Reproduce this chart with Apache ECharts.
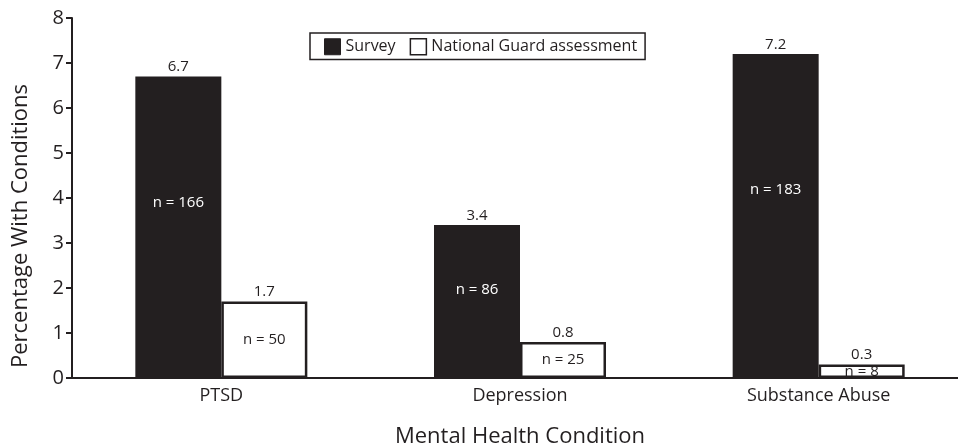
<!DOCTYPE html>
<html>
<head>
<meta charset="utf-8">
<script src="https://cdn.jsdelivr.net/npm/echarts@6/dist/echarts.min.js"></script>
<style>html,body{margin:0;padding:0;background:#fff;}#c{width:958px;height:448px;}</style>
</head>
<body>
<div id="c"></div>
<script>
const categories = ['PTSD', 'Depression', 'Substance Abuse'];
const surveyPct = [6.7, 3.4, 7.2];
const guardPct = [1.7, 0.8, 0.3];
const surveyN = [166, 86, 183];
const guardN = [50, 25, 8];
const yTicks = [0, 1, 2, 3, 4, 5, 6, 7, 8];

const ink = '#231f20';
const font = 'Open Sans';
const chart = echarts.init(document.getElementById('c'));
chart.setOption({
  animation: false,
  textStyle: { fontFamily: font, color: ink },
  grid: { left: 72, right: -10, top: 18, bottom: 70, containLabel: false, outerBoundsMode: 'none' },
  legend: {
    left: 310, top: 33,
    padding: [5, 8, 4, 14],
    borderColor: ink, borderWidth: 1.5, borderRadius: 0,
    itemWidth: 16, itemHeight: 16, itemGap: 14,
    icon: 'rect',
    textStyle: { fontSize: 16, color: ink, fontFamily: font },
    data: [
      { name: 'Survey', itemStyle: { color: ink, borderColor: ink, borderWidth: 1 } },
      { name: 'National Guard assessment', itemStyle: { color: '#fff', borderColor: ink, borderWidth: 1.5 } }
    ]
  },
  xAxis: [{
    type: 'category', data: categories,
    name: 'Mental Health Condition', nameLocation: 'middle', nameGap: 48,
    nameTextStyle: { fontSize: 22, color: ink },
    axisLine: { lineStyle: { color: ink, width: 2 } },
    axisTick: { show: false },
    axisLabel: { fontSize: 18, color: ink, margin: 9 }
  }, {
    type: 'category', data: categories, show: false
  }],
  yAxis: {
    type: 'value', min: 0, max: 8, interval: 1,
    name: 'Percentage With Conditions', nameLocation: 'middle', nameGap: 40,
    nameTextStyle: { fontSize: 22, color: ink, padding: [0, 56, 0, 0] },
    axisLine: { show: true, lineStyle: { color: ink, width: 2 } },
    axisTick: { show: true, length: 6, lineStyle: { color: ink, width: 2 } },
    splitLine: { show: false },
    axisLabel: { fontSize: 20, color: ink, margin: 8,
      formatter: v => yTicks.includes(v) ? String(v) : '' }
  },
  series: [
    {
      name: 'Survey', type: 'bar', data: surveyPct, barWidth: 86, barGap: '0%',
      itemStyle: { color: ink },
      label: { show: true, position: 'top', distance: 2, fontSize: 15, color: ink,
        formatter: p => p.value.toFixed(1) }
    },
    {
      name: 'National Guard assessment', type: 'bar', data: guardPct, barWidth: 86, barGap: '0%',
      itemStyle: { color: '#fff', borderColor: ink, borderWidth: 2.5 },
      label: { show: true, position: 'top', distance: 2, fontSize: 15, color: ink,
        formatter: p => p.value.toFixed(1) }
    },
    {
      name: 'surveyN', type: 'bar', xAxisIndex: 1, data: surveyPct, barWidth: 86, barGap: '0%',
      itemStyle: { color: 'rgba(0,0,0,0)' }, silent: true,
      label: { show: true, position: ['50%', '42%'], align: 'center', verticalAlign: 'middle',
        fontSize: 15, color: '#fff', formatter: p => 'n = ' + surveyN[p.dataIndex] }
    },
    {
      name: 'guardN', type: 'bar', xAxisIndex: 1, data: guardPct, barWidth: 86, barGap: '0%',
      itemStyle: { color: 'rgba(0,0,0,0)' }, silent: true,
      label: { show: true, position: 'inside', fontSize: 15, color: ink,
        formatter: p => 'n = ' + guardN[p.dataIndex] }
    }
  ]
});
</script>
</body>
</html>
